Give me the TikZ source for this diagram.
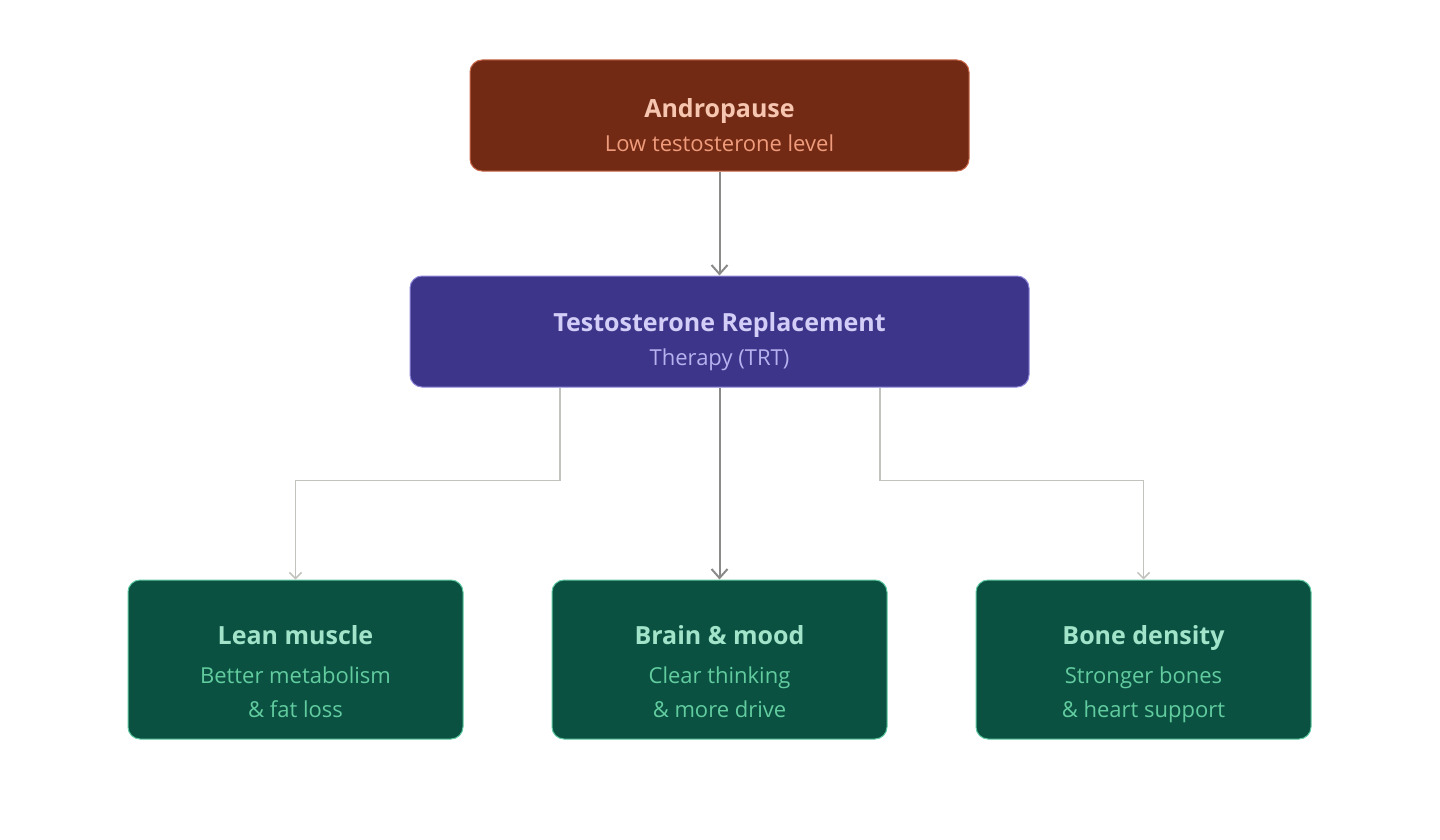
\documentclass[tikz,border=0pt]{standalone}
\usepackage{fontspec}
\setmainfont{Open Sans}
\usetikzlibrary{arrows.meta}

\definecolor{causefill}{HTML}{722A14}
\definecolor{causeline}{HTML}{C9694A}
\definecolor{causetitle}{HTML}{F7C6B0}
\definecolor{causetext}{HTML}{F09C7C}
\definecolor{therapyfill}{HTML}{3D3589}
\definecolor{therapyline}{HTML}{8E87D9}
\definecolor{therapytitle}{HTML}{D2CEF7}
\definecolor{therapytext}{HTML}{B7B1F0}
\definecolor{effectfill}{HTML}{0A5142}
\definecolor{effectline}{HTML}{5FC9A1}
\definecolor{effecttitle}{HTML}{A2E4CA}
\definecolor{effecttext}{HTML}{62CC9F}
\definecolor{mainarrow}{HTML}{8A8A88}
\definecolor{sidearrow}{HTML}{C2C2BE}

% title line with a strut that pushes the block down a little
\newcommand{\boxtitle}[2][47pt]{\rule{0pt}{#1}{\fontsize{25}{34}\selectfont\bfseries #2}}
% fixed depth for the last line
\newcommand{\boxend}{\rule[-8pt]{0pt}{8pt}}

\tikzset{
    cause/.style={draw=causeline, fill=causefill, rounded corners=12pt,
        minimum width=499pt, minimum height=111pt, align=center,
        text=causetext, line width=1pt, font=\fontsize{22}{34}\selectfont},
    therapy/.style={draw=therapyline, fill=therapyfill, rounded corners=12pt,
        minimum width=619pt, minimum height=111pt, align=center,
        text=therapytext, line width=1pt, font=\fontsize{22}{34}\selectfont},
    effect/.style={draw=effectline, fill=effectfill, rounded corners=12pt,
        minimum width=335pt, minimum height=159pt, align=center,
        text=effecttext, line width=1pt, font=\fontsize{22}{34}\selectfont},
    mainlink/.style={draw=mainarrow, line width=2pt,
        -{Straight Barb[length=9pt, width=16pt, line width=2pt]}},
    sidelink/.style={draw=sidearrow, line width=1.5pt,
        -{Straight Barb[length=6pt, width=12pt, line width=1.5pt]}}
}

\begin{document}
\begin{tikzpicture}[x=1pt, y=-1pt]
        \useasboundingbox[fill=white] (0,0) rectangle (1440,840);
        \node[cause] (Andropause) at (719.5,115.5) {
            \textcolor{causetitle}{\boxtitle{Andropause}}\\
            Low testosterone level\boxend
        };
        \node[therapy] (Therapy) at (719.5,331.5) {
            \textcolor{therapytitle}{\boxtitle[41pt]{Testosterone Replacement}}\\
            Therapy (TRT)\boxend
        };
        \node[effect] (Muscle) at (295.5,659.5) {
            \textcolor{effecttitle}{\boxtitle[51pt]{Lean muscle}}\\[5pt]
            Better metabolism\\
            \& fat loss\boxend
        };
        \node[effect] (Brain) at (719.5,659.5) {
            \textcolor{effecttitle}{\boxtitle[51pt]{Brain \& mood}}\\[5pt]
            Clear thinking\\
            \& more drive\boxend
        };
        \node[effect] (Bone) at (1143.5,659.5) {
            \textcolor{effecttitle}{\boxtitle[51pt]{Bone density}}\\[5pt]
            Stronger bones\\
            \& heart support\boxend
        };
        \draw[mainlink] (Andropause) to (Therapy);
        \draw[mainlink] (Therapy) to (Brain);
        \draw[sidelink] ([xshift=-159.5pt]Therapy.south) -- ++(0,93) -| (Muscle.north);
        \draw[sidelink] ([xshift=160.5pt]Therapy.south) -- ++(0,93) -| (Bone.north);
    \end{tikzpicture}
\end{document}
